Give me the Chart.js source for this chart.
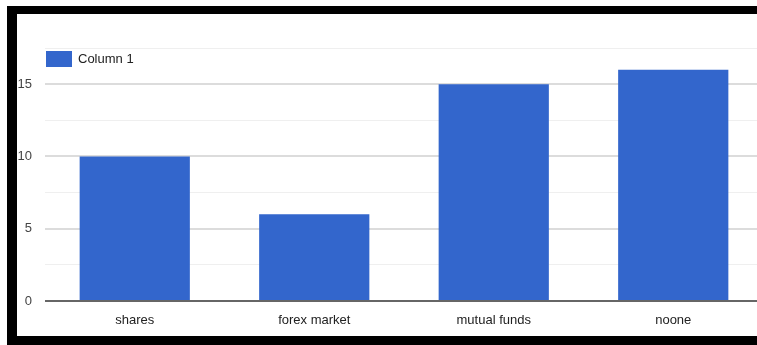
<!DOCTYPE html>
<html>
<head>
<meta charset="utf-8">
<script src="https://cdn.jsdelivr.net/npm/chart.js@4/dist/chart.umd.min.js"></script>
<style>
  html, body { margin: 0; padding: 0; background: #fff; overflow: hidden; }
  #wrap { position: relative; width: 757px; height: 345px; overflow: hidden; }
  #chart { position: absolute; left: 0; top: 0; }
  .band { position: absolute; background: #000; }
</style>
</head>
<body>
<div id="wrap">
  <canvas id="chart" width="763" height="345"></canvas>
  <!-- black frame around the chart (no right edge) -->
  <div class="band" style="left:7px; top:6px; width:750px; height:8px;"></div>
  <div class="band" style="left:7px; top:6px; width:10px; height:339px;"></div>
  <div class="band" style="left:7px; top:336px; width:750px; height:9px;"></div>
</div>
<script>
  // ============================================================
  // DATA
  // ============================================================
  const categories = ['shares', 'forex market', 'mutual funds', 'noone'];
  const column1 = [10, 6, 15, 16];
  const yTicks = [0, 5, 10, 15];
  const seriesName = 'Column 1';

  const FONT = '"Liberation Sans", Arial, sans-serif';
  const BAR_COLOR = '#3366cc';

  // Legend drawn inside the plot, top-left corner
  const insideLegend = {
    id: 'insideLegend',
    afterDatasetsDraw(chart) {
      const { ctx, chartArea } = chart;
      const ds = chart.data.datasets[0];
      const x = chartArea.left + 1;
      const y = chartArea.top + 3;
      ctx.save();
      ctx.fillStyle = ds.backgroundColor;
      ctx.fillRect(x, y, 26, 16);
      ctx.fillStyle = '#222';
      ctx.font = '13px ' + FONT;
      ctx.textBaseline = 'middle';
      ctx.textAlign = 'left';
      ctx.fillText(ds.label, x + 32, y + 8.5);
      ctx.restore();
    }
  };

  const ctx = document.getElementById('chart');
  new Chart(ctx, {
    type: 'bar',
    data: {
      labels: categories,
      datasets: [{
        label: seriesName,
        data: column1,
        backgroundColor: BAR_COLOR,
        borderWidth: 0,
        barPercentage: 0.614,
        categoryPercentage: 1.0
      }]
    },
    plugins: [insideLegend],
    options: {
      responsive: false,
      animation: false,
      layout: { padding: { top: 48, right: 0, bottom: 0, left: 0 } },
      plugins: {
        tooltip: { enabled: false },
        legend: { display: false }
      },
      scales: {
        x: {
          grid: { display: false, drawTicks: false },
          border: { display: false },
          ticks: {
            color: '#222',
            padding: 12,
            maxRotation: 0,
            font: { family: FONT, size: 13 }
          },
          afterFit: s => { s.height = 44; }
        },
        y: {
          min: 0,
          max: 17.5,
          grid: {
            drawTicks: false,
            color: c => c.tick.value === 0 ? '#666' : (yTicks.includes(c.tick.value) ? '#dcdcdc' : '#efefef'),
            lineWidth: c => (c.tick.value % 5 === 0) ? 2 : 1
          },
          border: { display: false },
          ticks: {
            stepSize: 2.5,
            color: '#444',
            padding: 13,
            font: { family: FONT, size: 13 },
            callback: v => yTicks.includes(v) ? String(v) : ''
          },
          afterFit: s => { s.width = 45; }
        }
      }
    }
  });
</script>
</body>
</html>
